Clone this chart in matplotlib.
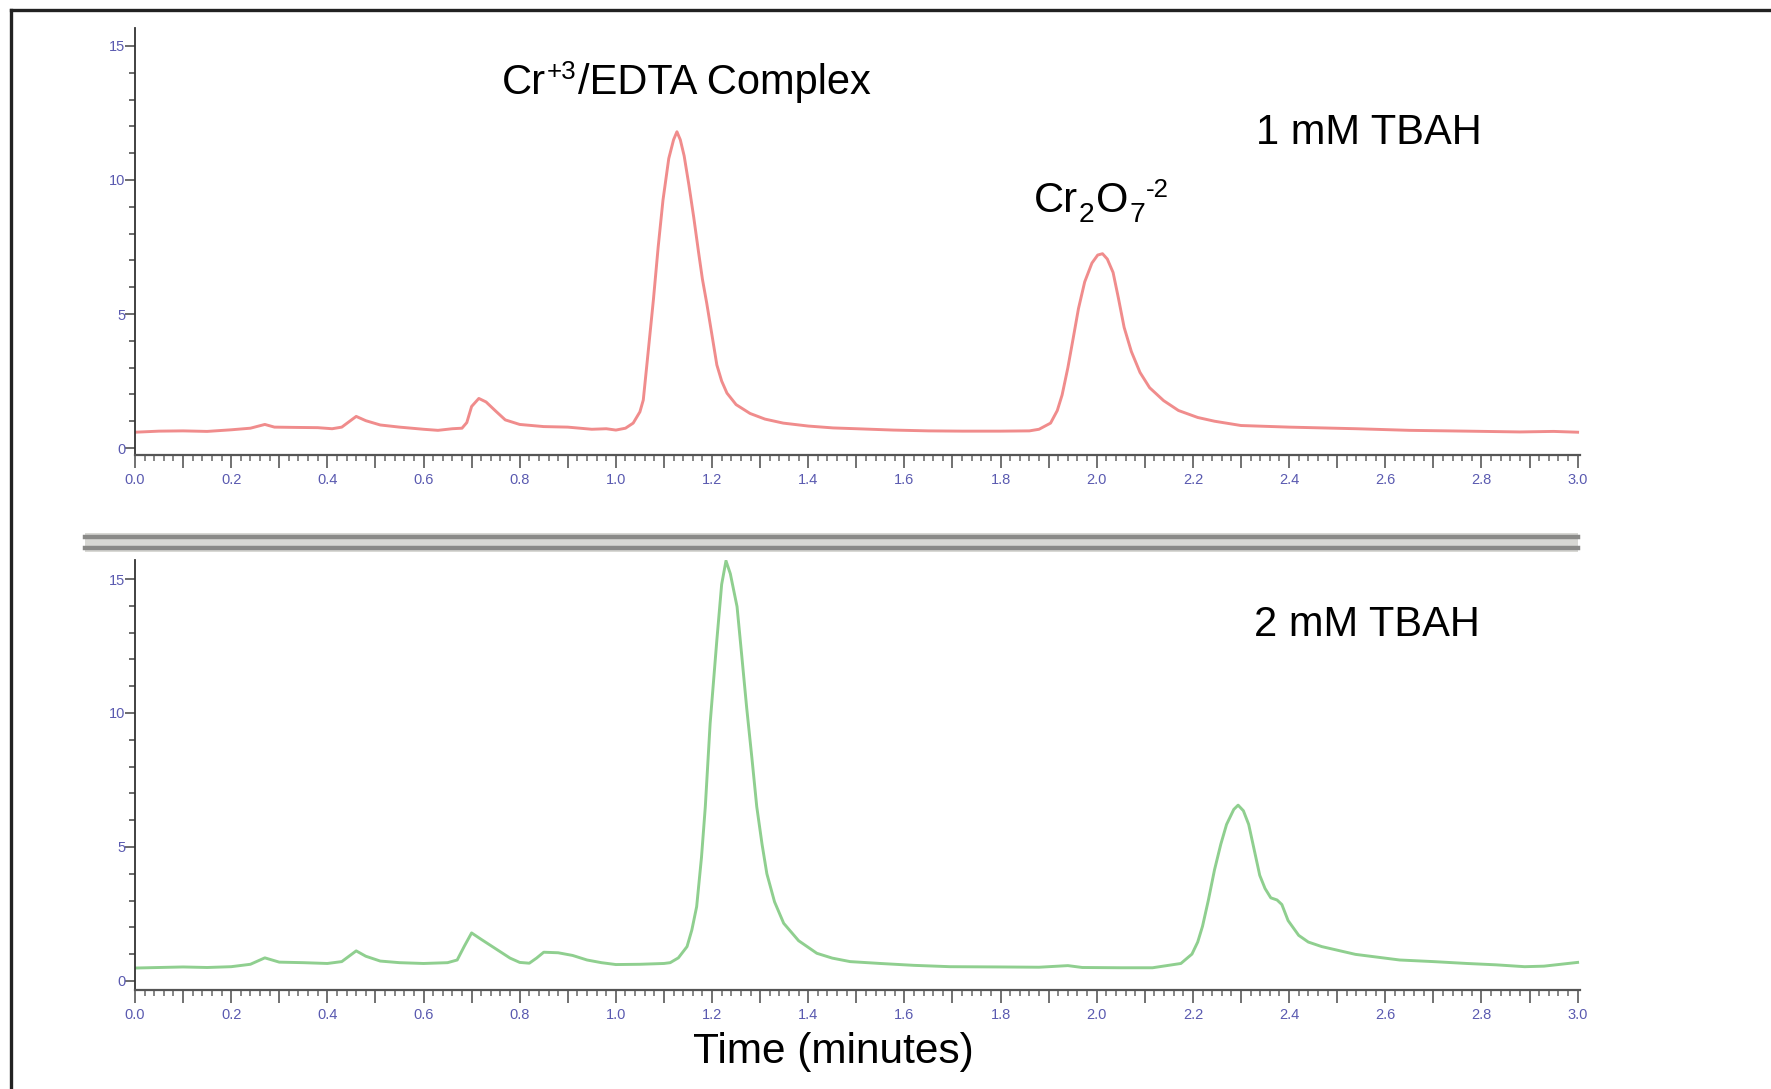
import numpy as np
import matplotlib
matplotlib.use('Agg')
import matplotlib.pyplot as plt
from matplotlib.ticker import MultipleLocator, FuncFormatter
from matplotlib.lines import Line2D

plt.rcParams['font.family'] = ['Liberation Sans', 'DejaVu Sans']

# 1 mM TBAH trace (time in minutes, signal)
t_1mm = [0.00, 0.05, 0.10, 0.15, 0.20, 0.24, 0.27, 0.29, 0.33, 0.38, 0.41, 0.43, 0.46, 0.48,
         0.51, 0.55, 0.60, 0.63, 0.66, 0.68, 0.69, 0.70, 0.715, 0.73, 0.75, 0.77, 0.80, 0.85,
         0.90, 0.95, 0.98, 1.00, 1.02, 1.036, 1.05, 1.057, 1.065, 1.078, 1.088, 1.098, 1.11,
         1.12, 1.127, 1.134, 1.142, 1.152, 1.162, 1.172, 1.18, 1.189, 1.20, 1.21, 1.22, 1.231,
         1.25, 1.279, 1.31, 1.348, 1.40, 1.452, 1.50, 1.577, 1.65, 1.72, 1.80, 1.86, 1.88,
         1.904, 1.918, 1.928, 1.94, 1.951, 1.962, 1.975, 1.99, 2.002, 2.012, 2.022, 2.034,
         2.045, 2.057, 2.072, 2.09, 2.11, 2.139, 2.17, 2.21, 2.245, 2.30, 2.40, 2.54, 2.65,
         2.77, 2.88, 2.95, 3.00]
sig_1mm = [0.59, 0.63, 0.64, 0.62, 0.68, 0.74, 0.88, 0.78, 0.77, 0.76, 0.72, 0.78, 1.18, 1.02,
           0.86, 0.78, 0.70, 0.66, 0.72, 0.74, 0.95, 1.55, 1.85, 1.72, 1.38, 1.05, 0.88, 0.80,
           0.78, 0.70, 0.72, 0.67, 0.74, 0.93, 1.35, 1.79, 3.2, 5.52, 7.5, 9.25, 10.8,
           11.5, 11.8, 11.5, 10.9, 9.8, 8.6, 7.3, 6.3, 5.4, 4.2, 3.1, 2.5, 2.05,
           1.62, 1.29, 1.08, 0.93, 0.82, 0.75, 0.72, 0.67, 0.64, 0.63, 0.63, 0.64, 0.70,
           0.93, 1.4, 1.98, 3.0, 4.09, 5.2, 6.2, 6.9, 7.2, 7.25, 7.05, 6.55,
           5.6, 4.5, 3.6, 2.82, 2.25, 1.77, 1.40, 1.14, 1.00, 0.84, 0.78, 0.72, 0.66,
           0.63, 0.60, 0.62, 0.59]

# 2 mM TBAH trace
t_2mm = [0.00, 0.05, 0.10, 0.15, 0.20, 0.24, 0.27, 0.30, 0.35, 0.40, 0.43, 0.46, 0.48, 0.51,
         0.55, 0.60, 0.65, 0.67, 0.685, 0.70, 0.72, 0.75, 0.78, 0.80, 0.82, 0.835, 0.85, 0.88,
         0.91, 0.94, 0.97, 1.00, 1.05, 1.10, 1.113, 1.13, 1.148, 1.158, 1.168, 1.178, 1.186,
         1.196, 1.21, 1.22, 1.229, 1.238, 1.252, 1.262, 1.272, 1.283, 1.293, 1.304, 1.314, 1.33,
         1.349, 1.38, 1.418, 1.45, 1.487, 1.55, 1.62, 1.695, 1.80, 1.88, 1.94, 1.97, 2.05,
         2.116, 2.175, 2.198, 2.21, 2.22, 2.232, 2.245, 2.258, 2.27, 2.285, 2.294, 2.305, 2.316,
         2.328, 2.339, 2.35, 2.362, 2.375, 2.385, 2.398, 2.42, 2.44, 2.468, 2.538, 2.63, 2.70,
         2.77, 2.83, 2.89, 2.93, 2.96, 3.00]
sig_2mm = [0.48, 0.50, 0.52, 0.50, 0.53, 0.62, 0.86, 0.70, 0.68, 0.65, 0.72, 1.12, 0.92, 0.74,
           0.68, 0.65, 0.68, 0.78, 1.3, 1.79, 1.55, 1.2, 0.85, 0.69, 0.66, 0.85, 1.07, 1.05,
           0.95, 0.78, 0.68, 0.61, 0.62, 0.65, 0.68, 0.86, 1.28, 1.9, 2.77, 4.6, 6.5,
           9.6, 12.72, 14.8, 15.68, 15.2, 13.97, 12.1, 10.2, 8.3, 6.5, 5.1, 4.0, 2.95,
           2.15, 1.5, 1.03, 0.85, 0.72, 0.65, 0.58, 0.53, 0.52, 0.51, 0.57, 0.50, 0.49,
           0.49, 0.65, 1.0, 1.45, 2.04, 3.0, 4.15, 5.1, 5.84, 6.4, 6.56, 6.35, 5.84,
           4.85, 3.94, 3.45, 3.1, 3.02, 2.85, 2.25, 1.7, 1.45, 1.28, 0.99, 0.78, 0.72,
           0.65, 0.60, 0.53, 0.55, 0.61, 0.69]

y_ticks = [0, 5, 10, 15]
x_label = 'Time (minutes)'

TICK_COLOR = '#5a5ab0'
W, H = 1771, 1089
FS = 30


def style_axis(ax, ymin, ymax):
    ax.set_xlim(0, 3.005)
    ax.set_ylim(ymin, ymax)
    for s in ['top', 'right']:
        ax.spines[s].set_visible(False)
    ax.spines['left'].set_color('#333333')
    ax.spines['bottom'].set_color('#555555')
    ax.spines['left'].set_linewidth(1.3)
    ax.spines['bottom'].set_linewidth(1.6)
    ax.set_yticks(y_ticks)
    ax.yaxis.set_minor_locator(MultipleLocator(1))
    ax.xaxis.set_major_locator(MultipleLocator(0.1))
    ax.xaxis.set_minor_locator(MultipleLocator(0.02))
    ax.xaxis.set_major_formatter(FuncFormatter(
        lambda v, p: f'{v:.1f}' if abs(round(v * 10)) % 2 == 0 else ''))
    ax.tick_params(axis='x', which='major', length=9, width=1.3, color='#666666',
                   labelsize=10.5, labelcolor=TICK_COLOR, pad=4)
    ax.tick_params(axis='x', which='minor', length=4, width=1.1, color='#666666')
    ax.tick_params(axis='y', which='major', length=7, width=1.1, color='#444444',
                   labelsize=10.5, labelcolor=TICK_COLOR, pad=0)
    ax.tick_params(axis='y', which='minor', length=4, width=1.1, color='#444444')


def chem_label(fig, x_px, base_px, pieces):
    """pieces: list of (text, kind) with kind in 'n', 'sub', 'sup'; placed left to right"""
    r = fig.canvas.get_renderer()
    x = x_px
    for txt, kind in pieces:
        if kind == 'n':
            size, dy = FS, 0
        elif kind == 'sub':
            size, dy = FS * 0.68, 10
        else:
            size, dy = FS * 0.62, -15
        t = fig.text(x / W, 1 - (base_px + dy) / H, txt, fontsize=size,
                     va='baseline', ha='left')
        bb = t.get_window_extent(renderer=r)
        x += bb.width + 1


fig = plt.figure(figsize=(W / 100, H / 100), dpi=100)
fig.patch.set_facecolor('white')

left = 135 / W
width = (1580 - 135) / W

# top panel: 1 mM TBAH
ax1 = fig.add_axes([left, 1 - 455 / H, width, (455 - 28) / H])
ax1.plot(t_1mm, sig_1mm, color='#f08c8c', lw=2.1)
style_axis(ax1, -0.26, 15.67)

# bottom panel: 2 mM TBAH
ax2 = fig.add_axes([left, 1 - 990 / H, width, (990 - 560) / H])
ax2.plot(t_2mm, sig_2mm, color='#8fcf8f', lw=2.1)
style_axis(ax2, -0.34, 15.71)

# annotations
chem_label(fig, 502, 94, [('Cr', 'n'), ('+3', 'sup'), ('/EDTA Complex', 'n')])
chem_label(fig, 1034, 212, [('Cr', 'n'), ('2', 'sub'), ('O', 'n'), ('7', 'sub'), ('-2', 'sup')])
fig.text(1256 / W, 1 - 133 / H, '1 mM TBAH', fontsize=FS, va='center', ha='left')
fig.text(1254 / W, 1 - 625 / H, '2 mM TBAH', fontsize=FS, va='center', ha='left')
fig.text(833 / W, 1 - 1052 / H, x_label, fontsize=30.5, va='center', ha='center')

# grey double separator between panels
x0, x1 = 85 / W, 1578 / W
fig.add_artist(plt.Rectangle((x0, 1 - 552 / H), x1 - x0, 19 / H, transform=fig.transFigure,
                             facecolor='#d8d8d4', edgecolor='none'))
for yy in [537, 548]:
    fig.add_artist(Line2D([x0, x1], [1 - yy / H] * 2, transform=fig.transFigure,
                          color='#8a8a88', lw=3.2))

# outer frame (top and left edges)
fig.add_artist(Line2D([11 / W, 1], [1 - 10 / H] * 2, transform=fig.transFigure,
                      color='#222222', lw=2.4))
fig.add_artist(Line2D([11 / W] * 2, [0, 1 - 10 / H], transform=fig.transFigure,
                      color='#222222', lw=2.4))

fig.savefig('out.png', dpi=100)
